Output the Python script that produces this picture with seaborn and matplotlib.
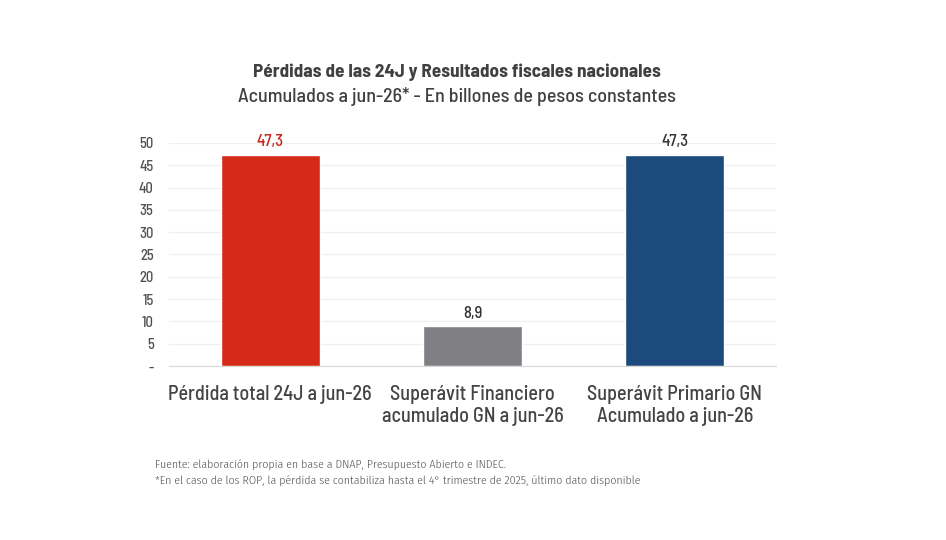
import numpy as np
import pandas as pd
import matplotlib
matplotlib.use('Agg')
import matplotlib.pyplot as plt
import seaborn as sns

# data
categories = ['Pérdida total 24J a jun-26',
              'Superávit Financiero\nacumulado GN a jun-26',
              'Superávit Primario GN\nAcumulado a jun-26']
values = [47.3, 8.9, 47.3]
value_labels = ['47,3', '8,9', '47,3']
bar_colors = ['#D42A17', '#807F83', '#1C4A7D']
label_colors = ['#C8251A', '#333333', '#333333']
yticks = [0, 5, 10, 15, 20, 25, 30, 35, 40, 45, 50]
ytick_labels = ['-'] + [str(t) for t in yticks[1:]]

sns.set_style('white')
plt.rcParams['font.family'] = ['Barlow Semi Condensed', 'DejaVu Sans']
plt.rcParams['font.weight'] = 500
note_font = ['Fira Sans Condensed', 'Barlow Semi Condensed', 'DejaVu Sans']

df = pd.DataFrame({'cat': categories, 'val': values})

fig = plt.figure(figsize=(9.46, 5.4), dpi=100)
ax = fig.add_axes([169 / 946, 1 - 366 / 540, (776 - 169) / 946, (366 - 143) / 540])

sns.barplot(data=df, x='cat', y='val', hue='cat', palette=bar_colors,
            width=0.49, legend=False, ax=ax, saturation=1)

ax.set_xlim(-0.5, 2.5)
ax.set_ylim(0, 50)
ax.set_yticks(yticks)
ax.set_yticklabels(ytick_labels)
ax.set_xlabel('')
ax.set_ylabel('')
ax.grid(axis='y', color='#F0F0F0', linewidth=1)
ax.set_axisbelow(True)
for s in ['top', 'right', 'left']:
    ax.spines[s].set_visible(False)
ax.spines['bottom'].set_color('#D9D9D9')
ax.tick_params(axis='y', length=0, labelsize=10.5, labelcolor='#505050', pad=11)
ax.tick_params(axis='x', length=0, labelsize=14.5, labelcolor='#444444', pad=14)
for t in ax.get_xticklabels():
    t.set_linespacing(1.2)
    t.set_fontweight(500)
for t in ax.get_yticklabels():
    t.set_fontweight(500)

for i, (v, lab, c) in enumerate(zip(values, value_labels, label_colors)):
    ax.text(i, v + 1.3, lab, ha='center', va='bottom', fontsize=12,
            color=c, fontweight=500, clip_on=False)

fig.text(457 / 946, 1 - 72 / 540, 'Pérdidas de las 24J y Resultados fiscales nacionales',
         ha='center', va='center', fontsize=13.8, fontweight='bold', color='#404040')
fig.text(457 / 946, 1 - 96 / 540, 'Acumulados a jun-26* - En billones de pesos constantes',
         ha='center', va='center', fontsize=14.4, fontweight=500, color='#404040')

fig.text(155 / 946, 1 - 465 / 540,
         'Fuente: elaboración propia en base a DNAP, Presupuesto Abierto e INDEC.',
         ha='left', va='center', fontsize=8.5, fontweight=300, color='#505050', family=note_font)
fig.text(155 / 946, 1 - 481 / 540,
         '*En el caso de los ROP, la pérdida se contabiliza hasta el 4° trimestre de 2025, último dato disponible',
         ha='left', va='center', fontsize=8.5, fontweight=300, color='#505050', family=note_font)

fig.savefig('out.png', dpi=100)
